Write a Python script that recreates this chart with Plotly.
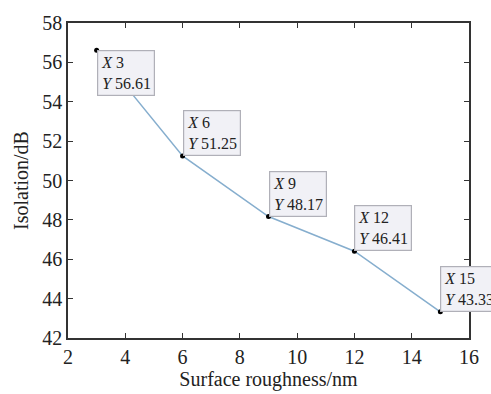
import plotly.graph_objects as go

roughness = [3, 6, 9, 12, 15]
isolation = [56.61, 51.25, 48.17, 46.41, 43.33]
label_pos = ["below", "above", "above", "above", "above"]

SERIF = "Times New Roman, Liberation Serif, serif"

fig = go.Figure()
fig.add_trace(go.Scatter(
    x=roughness, y=isolation, mode="lines+markers",
    line=dict(color="#86aece", width=1.5),
    marker=dict(color="black", size=5),
    showlegend=False, hoverinfo="skip"))

for x, y, p in zip(roughness, isolation, label_pos):
    fig.add_annotation(
        x=x, y=y, xref="x", yref="y", showarrow=False,
        text=f"<i>X</i> {x}<br><i>Y</i> {y:.2f}",
        xanchor="left", yanchor="top" if p == "below" else "bottom",
        align="left",
        font=dict(family=SERIF, size=16, color="#222"),
        bgcolor="#f1f1f6", bordercolor="#b0b0b8", borderwidth=1.2, borderpad=3,
    )

axis_common = dict(
    showgrid=False, zeroline=False, showline=True, linecolor="#333",
    linewidth=1.5, mirror="ticks", ticks="inside", ticklen=5, tickcolor="#333",
    tickfont=dict(family=SERIF, size=20, color="#222"),
)
fig.update_xaxes(range=[2, 16], dtick=2,
                 title=dict(text="Surface roughness/nm", standoff=0,
                            font=dict(family=SERIF, size=20, color="#222")),
                 **axis_common)
fig.update_yaxes(range=[42, 58], dtick=2,
                 title=dict(text="Isolation/dB", standoff=8,
                            font=dict(family=SERIF, size=20, color="#222")),
                 **axis_common)
fig.update_layout(
    width=491, height=394, margin=dict(l=68, r=13, t=20, b=51),
    paper_bgcolor="white", plot_bgcolor="white",
)
fig.write_html("out.html")
